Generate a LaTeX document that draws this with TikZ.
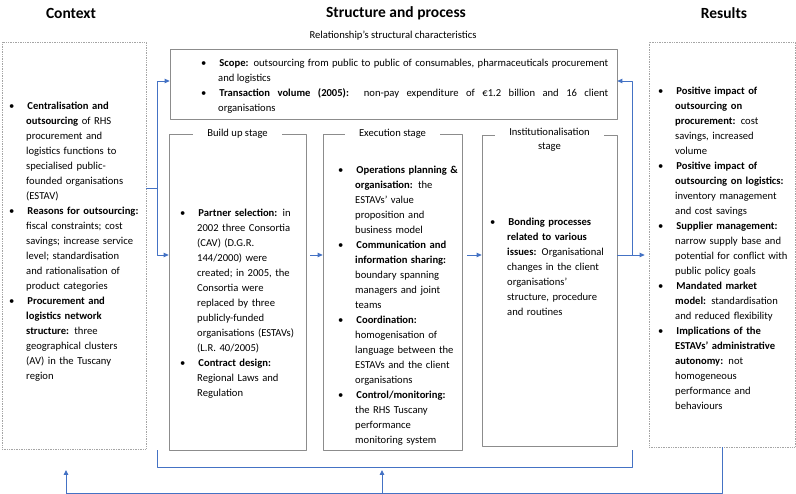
\documentclass[tikz,border=0pt]{standalone}
\usepackage{fontspec}
\setmainfont{Carlito}
\usepackage{enumitem}
\usetikzlibrary{arrows.meta}
\setlist[itemize]{label=\textbullet, leftmargin=17pt, labelwidth=4pt, labelsep=13pt, align=left, topsep=0pt, partopsep=0pt, itemsep=0pt, parsep=0pt}
\definecolor{boxgray}{RGB}{140,140,140}
\definecolor{dotgray}{RGB}{165,165,165}
\definecolor{linkblue}{RGB}{68,114,196}
\tikzset{
  stagebox/.style={draw=boxgray, line width=0.7pt, inner sep=0pt},
  dotbox/.style={draw=dotgray, densely dotted, line width=0.7pt, inner sep=0pt},
  textblock/.style={anchor=north west, inner sep=0pt, text width=#1, align=left, font=\fontsize{10.6}{15}\selectfont},
  heading/.style={font=\fontsize{15.5}{18}\selectfont\bfseries},
  stagelabel/.style={fill=white, inner xsep=14pt, inner ysep=1pt, align=center, font=\fontsize{10.6}{13.5}\selectfont},
  link/.style={draw=linkblue, line width=0.9pt},
  flow/.style={link, -{Triangle[length=5pt,width=4.5pt]}}
}
\begin{document}
\begin{tikzpicture}[x=1pt,y=-1pt, line join=round]
  \useasboundingbox (0,0) rectangle (796,494);

  \node[heading] (tctx) at (71,13) {Context};
  \node[heading] (tsp) at (396,13) {Structure and process};
  \node[heading] (tres) at (724,13) {Results};
  \node[font=\fontsize{10.6}{13}\selectfont] (trel) at (393,36) {Relationship's structural characteristics};

  \node[dotbox, minimum width=144pt, minimum height=407pt] (ctx) at (74,245.5) {};
  \node[stagebox, minimum width=447pt, minimum height=70pt] (scope) at (393.5,84) {};
  \node[stagebox, minimum width=137pt, minimum height=316pt] (build) at (237.5,292) {};
  \node[stagebox, minimum width=139pt, minimum height=316pt] (exec) at (392.5,292) {};
  \node[stagebox, minimum width=135pt, minimum height=311pt] (inst) at (549.5,290.5) {};
  \node[dotbox, minimum width=146pt, minimum height=405pt] (res) at (722,244.5) {};

  \node[stagelabel] (tbuild) at (build.north) {Build up stage};
  \node[stagelabel] (texec) at (exec.north) {Execution stage};
  \node[stagelabel] (tinst) at ([yshift=-5pt]inst.north) {Institutionalisation\\stage};

  \node[textblock=150pt] (ctxtext) at (9,94) {\begin{itemize}
    \item \textbf{Centralisation and\\ outsourcing} of RHS\\ procurement and\\ logistics functions to\\ specialised public-\\founded organisations\\ (ESTAV)
    \item \textbf{Reasons for outsourcing:}\\ fiscal constraints; cost\\ savings; increase service\\ level; standardisation\\ and rationalisation of\\ product categories
    \item \textbf{Procurement and\\ logistics network\\ structure:} three\\ geographical clusters\\ (AV) in the Tuscany\\ region
  \end{itemize}};

  \node[textblock=407pt, align=justify] (scopetext) at (201,51) {\begin{itemize}
    \item \textbf{Scope:} outsourcing from public to public of consumables, pharmaceuticals procurement\linebreak and logistics
    \item \textbf{Transaction volume (2005):}\ \ non-pay expenditure of €1.2 billion and 16 client\linebreak organisations
  \end{itemize}};

  \node[textblock=135pt] (buildtext) at (180,201) {\begin{itemize}
    \item \textbf{Partner selection:} in\\ 2002 three Consortia\\ (CAV) (D.G.R.\\ 144/2000) were\\ created; in 2005, the\\ Consortia were\\ replaced by three\\ publicly-funded\\ organisations (ESTAVs)\\ (L.R. 40/2005)
    \item \textbf{Contract design:}\\ Regional Laws and\\ Regulation
  \end{itemize}};

  \node[textblock=135pt] (exectext) at (338,158) {\begin{itemize}
    \item \textbf{Operations planning \&\\ organisation:} the\\ ESTAVs' value\\ proposition and\\ business model
    \item \textbf{Communication and\\ information sharing:}\\ boundary spanning\\ managers and joint\\ teams
    \item \textbf{Coordination:}\\ homogenisation of\\ language between the\\ ESTAVs and the client\\ organisations
    \item \textbf{Control/monitoring:}\\ the RHS Tuscany\\ performance\\ monitoring system
  \end{itemize}};

  \node[textblock=130pt] (insttext) at (490,210) {\begin{itemize}
    \item \textbf{Bonding processes\\ related to various\\ issues:} Organisational\\ changes in the client\\ organisations'\\ structure, procedure\\ and routines
  \end{itemize}};

  \node[textblock=140pt] (restext) at (658,79) {\begin{itemize}
    \item \textbf{Positive impact of\\ outsourcing on\\ procurement:} cost\\ savings, increased\\ volume
    \item \textbf{Positive impact of\\ outsourcing on logistics:}\\ inventory management\\ and cost savings
    \item \textbf{Supplier management:}\\ narrow supply base and\\ potential for conflict with\\ public policy goals
    \item \textbf{Mandated market\\ model:} standardisation\\ and reduced flexibility
    \item \textbf{Implications of the\\ ESTAVs' administrative\\ autonomy:} not\\ homogeneous\\ performance and\\ behaviours
  \end{itemize}};

  \coordinate (ytop) at (0,81);
  \coordinate (ymid) at (0,255);
  \coordinate (jl) at (157,188);
  \coordinate (jr) at (632,255);
  \draw[link] (ctx.east |- jl) -- (jl);
  \draw[flow] (jl) |- (scope.west |- ytop);
  \draw[flow] (jl) |- (build.west |- ymid);
  \draw[flow, shorten <=4pt] (build.east |- ymid) -- (exec.west |- ymid);
  \draw[flow, shorten <=5pt] (exec.east |- ymid) -- (inst.west |- ymid);
  \draw[flow, shorten >=4pt] (inst.east |- ymid) -- (res.west |- ymid);
  \draw[flow] (jr) |- (scope.east |- ytop);

  \coordinate (bkl) at (157,467);
  \coordinate (bkr) at (632,467);
  \draw[link] (bkl |- build.south) -- (bkl) -- (bkr) -- (bkr |- build.south);
  \coordinate (lb) at (66,493);
  \coordinate (lt) at (66,470);
  \coordinate (mb) at (382,493);
  \coordinate (mt) at (382,470);
  \draw[link] (res.south) |- (lb);
  \draw[flow] (lb) -- (lt);
  \draw[flow] (mb) -- (mt);
\end{tikzpicture}
\end{document}
